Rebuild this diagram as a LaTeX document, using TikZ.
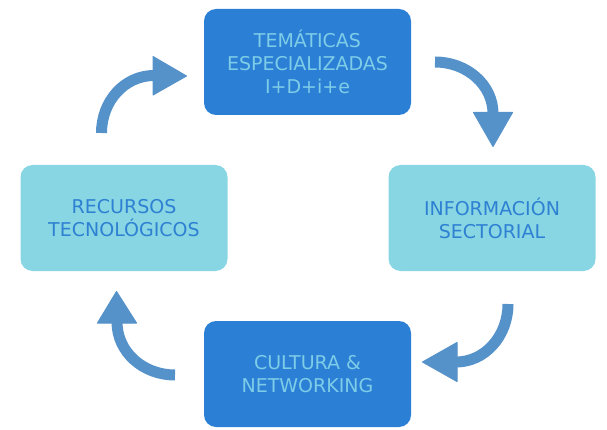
\documentclass[tikz,border=0pt]{standalone}
\usepackage{fontspec}
\setmainfont{DejaVu Sans}
\definecolor{darkbox}{RGB}{43,128,213}
\definecolor{darktext}{RGB}{125,204,232}
\definecolor{lightbox}{RGB}{136,214,227}
\definecolor{lighttext}{RGB}{46,128,210}
\definecolor{arrowc}{RGB}{86,146,202}
\begin{document}
\begin{tikzpicture}[x=1pt,y=-1pt,
  box/.style={rounded corners=12pt, minimum width=207pt, minimum height=106pt, align=center, inner sep=0pt, font=\fontsize{19}{23}\selectfont},
  darkb/.style={box, fill=darkbox, text=darktext},
  lightb/.style={box, fill=lightbox, text=lighttext},
  shaft/.style={draw=arrowc, line width=11pt, line cap=butt},
  head/.style={fill=arrowc, draw=arrowc, line width=1pt, line join=round}]
\useasboundingbox (0,0) rectangle (607,430);
\node[darkb] (tem) at (307.5,62) {TEMÁTICAS\\ESPECIALIZADAS\\I+D+i+e};
\node[lightb] (inf) at (492,218) {INFORMACIÓN\\SECTORIAL};
\node[lightb] (rec) at (124,218) {RECURSOS\\TECNOLÓGICOS};
\node[darkb] (cul) at (307.5,374) {CULTURA \&\\NETWORKING};
% top-right arrow
\draw[shaft] (435,62) .. controls (467,62) and (493,85) .. (493,113.5);
\draw[head] (473.5,112.5) -- (512.5,112.5) -- (493,146.5) -- cycle;
% bottom-right arrow
\draw[shaft] (508,304) .. controls (508,336) and (485,362) .. (456,362);
\draw[head] (457,342.5) -- (457,381.5) -- (422.5,362) -- cycle;
% bottom-left arrow
\draw[shaft] (175,375) .. controls (143,375) and (117,352) .. (117,322);
\draw[head] (97.5,323) -- (136.5,323) -- (116.5,291.5) -- cycle;
% top-left arrow
\draw[shaft] (101.5,133) .. controls (101.5,101) and (124.6,75.5) .. (154,75.5);
\draw[head] (153,56.5) -- (153,95) -- (186.5,76) -- cycle;
\end{tikzpicture}
\end{document}
